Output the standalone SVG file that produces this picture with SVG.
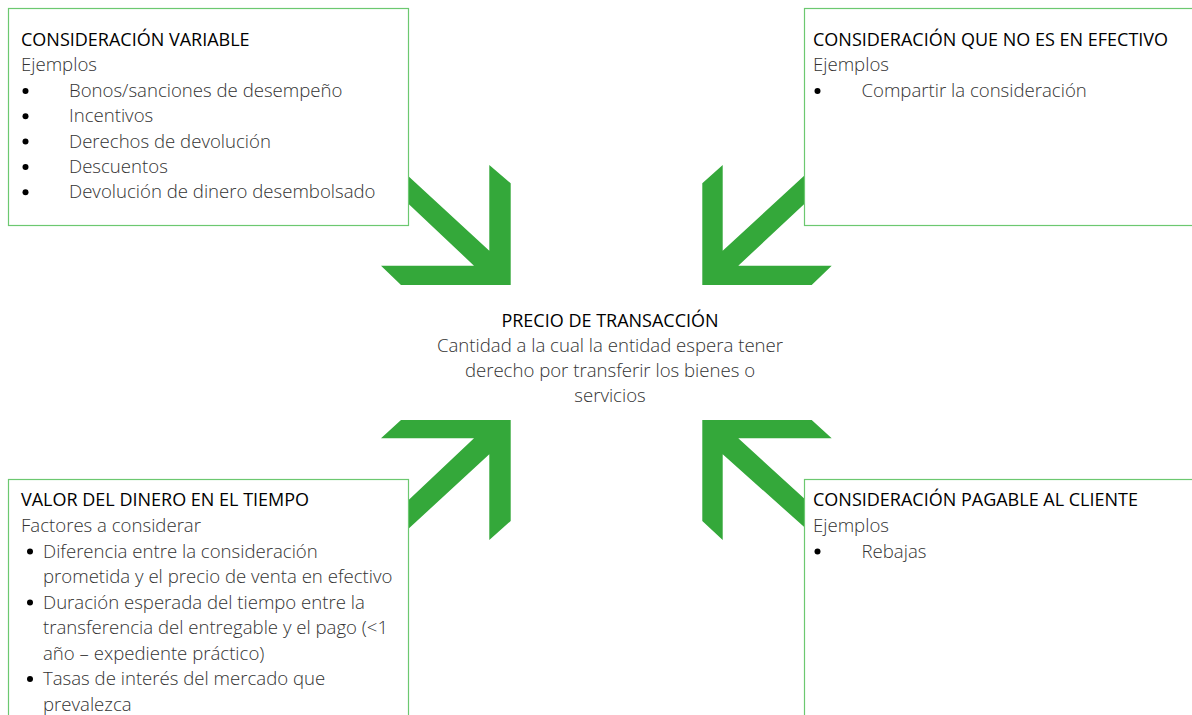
<svg xmlns="http://www.w3.org/2000/svg" width="1192" height="715" viewBox="0 0 1192 715">
<style>
.box{fill:#ffffff;stroke:#6cc870;stroke-width:1.2}
.arrow{fill:#34a83a}
text{font-family:"Open Sans","Noto Sans","Liberation Sans",sans-serif}
.title{fill:#000000;font-weight:400;font-size:18px}
.body{fill:#333333;font-weight:300;font-size:18.6px}
.dot{fill:#000000}
.c{text-anchor:middle}
</style>
<rect width="1192" height="715" fill="#ffffff"/>
<g id="connectors">
<polygon class="arrow" points="489.3,165 510.7,183.3 510.7,285 401,285 381,265.7 474,265.7 380,177 380,150 489.3,250.7"/>
<polygon class="arrow" points="722.7,165 702.3,183.3 702.3,285 811.7,285 831.7,265.7 738.3,265.7 830,180 830,152 722.7,250.7"/>
<polygon class="arrow" points="489.3,540 510.7,521 510.7,420 401,420 381,438.3 474,438.3 380,527 380,555 489.3,454.3"/>
<polygon class="arrow" points="722.7,540 702.3,521 702.3,420 811.7,420 831.7,438.3 738.3,438.3 830,522 830,550 722.7,454.3"/>
</g>
<g id="node-variable">
<rect class="box" x="8.5" y="8.5" width="400" height="217"/>
<text class="title" x="21" y="46">CONSIDERACIÓN VARIABLE</text>
<text class="body" x="21" y="71">Ejemplos</text>
<circle class="dot" cx="25.5" cy="91" r="3"/>
<text class="body" x="69" y="97">Bonos/sanciones de desempeño</text>
<circle class="dot" cx="25.5" cy="116.3" r="3"/>
<text class="body" x="69" y="122.3">Incentivos</text>
<circle class="dot" cx="25.5" cy="141.6" r="3"/>
<text class="body" x="69" y="147.6">Derechos de devolución</text>
<circle class="dot" cx="25.5" cy="166.9" r="3"/>
<text class="body" x="69" y="172.9">Descuentos</text>
<circle class="dot" cx="25.5" cy="192.2" r="3"/>
<text class="body" x="69" y="198.2">Devolución de dinero desembolsado</text>
</g>
<g id="node-no-efectivo">
<rect class="box" x="804.5" y="8.5" width="400" height="217"/>
<text class="title" x="813" y="46">CONSIDERACIÓN QUE NO ES EN EFECTIVO</text>
<text class="body" x="813" y="71">Ejemplos</text>
<circle class="dot" cx="817.5" cy="91" r="3"/>
<text class="body" x="861.5" y="97">Compartir la consideración</text>
</g>
<g id="node-precio">
<text class="title c" x="610" y="327">PRECIO DE TRANSACCIÓN</text>
<text class="body c" x="610" y="352">Cantidad a la cual la entidad espera tener</text>
<text class="body c" x="610" y="377">derecho por transferir los bienes o</text>
<text class="body c" x="610" y="402">servicios</text>
</g>
<g id="node-valor-tiempo">
<rect class="box" x="8.5" y="479.5" width="400" height="260"/>
<text class="title" x="21" y="506">VALOR DEL DINERO EN EL TIEMPO</text>
<text class="body" x="21" y="532">Factores a considerar</text>
<circle class="dot" cx="30" cy="551.5" r="3"/>
<text class="body" x="43" y="557.5">Diferencia entre la consideración</text>
<text class="body" x="43" y="583">prometida y el precio de venta en efectivo</text>
<circle class="dot" cx="30" cy="602.5" r="3"/>
<text class="body" x="43" y="608.5">Duración esperada del tiempo entre la</text>
<text class="body" x="43" y="634">transferencia del entregable y el pago (&lt;1</text>
<text class="body" x="43" y="659.5">año – expediente práctico)</text>
<circle class="dot" cx="30" cy="679" r="3"/>
<text class="body" x="43" y="685">Tasas de interés del mercado que</text>
<text class="body" x="43" y="710.5">prevalezca</text>
</g>
<g id="node-pagable-cliente">
<rect class="box" x="804.5" y="479.5" width="400" height="260"/>
<text class="title" x="813" y="506">CONSIDERACIÓN PAGABLE AL CLIENTE</text>
<text class="body" x="813" y="532">Ejemplos</text>
<circle class="dot" cx="817.5" cy="551.5" r="3"/>
<text class="body" x="861.5" y="557.5">Rebajas</text>
</g>
</svg>
